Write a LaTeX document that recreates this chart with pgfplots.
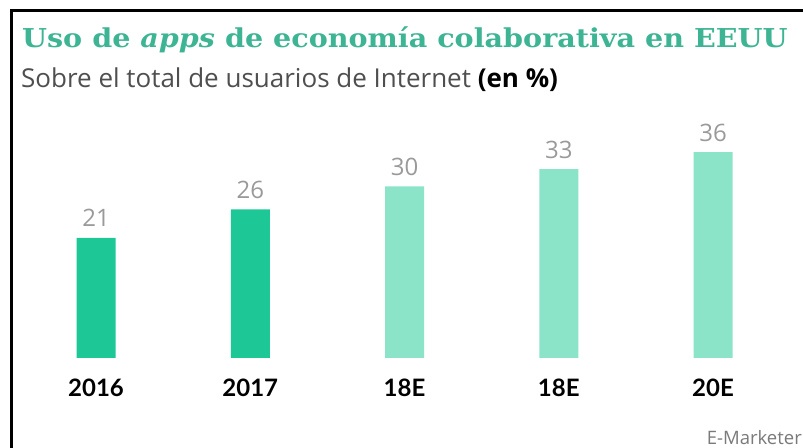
\documentclass[border=0pt]{standalone}
\usepackage{fontspec}
\setmainfont{Lato}
\newfontfamily\titlefont[FakeStretch=1.1]{DejaVu Serif}
\newfontfamily\subfont{Open Sans}
\usepackage{pgfplots}
\pgfplotsset{compat=1.18}
\definecolor{titleteal}{HTML}{3DB594}
\definecolor{bardark}{HTML}{1EC896}
\definecolor{barlight}{HTML}{8CE4C8}
\definecolor{subgray}{HTML}{4F4F4F}
\definecolor{numgray}{HTML}{9A9A9A}
\definecolor{srcgray}{HTML}{7A7A7A}
\begin{document}
\begin{tikzpicture}[x=1bp,y=1bp]
\useasboundingbox (0,0) rectangle (803,448);
\fill[white] (0,0) rectangle (803,448);
% frame (left and top)
\draw[line width=3bp,black] (11.5,0) -- (11.5,437.5) -- (803,437.5);
% title
\node[anchor=base west,inner sep=0,text=titleteal] at (22,400)
  {\titlefont\fontsize{26bp}{30bp}\selectfont\bfseries Uso de \textit{apps} de economía colaborativa en EEUU};
% subtitle
\node[anchor=base west,inner sep=0] at (21,360)
  {\subfont\fontsize{26bp}{30bp}\selectfont\textcolor{subgray}{Sobre el total de usuarios de Internet} \textbf{(en \%)}};
\begin{axis}[
  at={(18.9bp,90bp)}, anchor=south west,
  scale only axis, width=771.25bp, height=228.8bp,
  xmin=-0.5, xmax=4.5, ymin=0, ymax=40,
  axis line style={draw=none},
  ytick=\empty,
  xtick={0,1,2,3,4},
  xticklabels={2016,2017,18E,18E,20E},
  major tick length=0pt,
  xticklabel style={anchor=base, yshift=-39bp, inner sep=0pt,
    font=\fontsize{24bp}{28bp}\selectfont\bfseries, text=black},
  ybar, bar width=39bp, bar shift=0pt,
  nodes near coords,
  /pgf/number format/assume math mode=true,
  nodes near coords style={anchor=base, yshift=11bp, inner sep=0pt,
    font=\subfont\fontsize{24bp}{28bp}\selectfont, text=numgray},
  clip=false,
]
\addplot[draw=none, fill=bardark] coordinates {(0,21) (1,26)};
\addplot[draw=none, fill=barlight] coordinates {(2,30) (3,33) (4,36)};
\end{axis}
% source
\node[anchor=base east,inner sep=0,text=srcgray] at (802,3)
  {\subfont\fontsize{18.5bp}{22bp}\selectfont E-Marketer};
\end{tikzpicture}
\end{document}
